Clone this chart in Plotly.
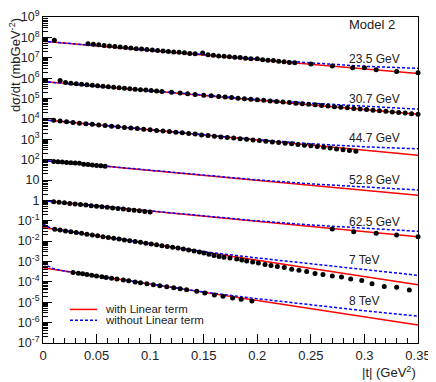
import plotly.graph_objects as go

# |t| in GeV^2, dsigma/dt in mb GeV^-2 (each energy shifted by a power of ten)
t_235 = [0.0106, 0.042, 0.047, 0.052, 0.057, 0.062, 0.067, 0.072, 0.077, 0.082,
         0.087, 0.092, 0.097, 0.102, 0.107, 0.112, 0.117, 0.122, 0.127, 0.132,
         0.137, 0.142, 0.149, 0.154, 0.159, 0.164, 0.169, 0.174, 0.179, 0.184,
         0.189, 0.194, 0.200, 0.205, 0.210, 0.215, 0.220, 0.225, 0.230, 0.235,
         0.250, 0.270, 0.289, 0.300, 0.311, 0.330, 0.350]
y_235 = [7.2e7, 4.90e7, 4.57e7, 4.32e7, 3.98e7, 3.80e7, 3.55e7, 3.35e7, 3.16e7, 3.02e7,
         2.80e7, 2.72e7, 2.51e7, 2.40e7, 2.28e7, 2.16e7, 2.05e7, 1.91e7, 1.85e7, 1.75e7,
         1.63e7, 1.58e7, 1.73e7, 1.40e7, 1.32e7, 1.23e7, 1.19e7, 1.11e7, 1.05e7, 1.02e7,
         9.48e6, 9.0e6, 9.06e6, 8.04e6, 7.62e6, 7.24e6, 6.71e6, 6.37e6, 5.92e6, 5.61e6,
         4.90e6, 3.98e6, 3.24e6, 3.24e6, 2.57e6, 2.09e6, 1.86e6]

t_307 = [0.016, 0.021, 0.026, 0.031, 0.036, 0.041, 0.046, 0.051, 0.056, 0.061,
         0.066, 0.071, 0.076, 0.081, 0.086, 0.091, 0.096, 0.101, 0.106, 0.111,
         0.120, 0.128, 0.135, 0.142, 0.150, 0.157, 0.164, 0.170, 0.176, 0.182,
         0.188, 0.194, 0.200, 0.206, 0.212, 0.218, 0.224, 0.230, 0.236, 0.242,
         0.248, 0.254, 0.260, 0.266, 0.272, 0.278, 0.284, 0.290, 0.296, 0.302,
         0.308, 0.314, 0.320, 0.326, 0.332, 0.338, 0.344, 0.350]
y_307 = [7.59e5, 6.03e5, 5.62e5, 5.37e5, 4.95e5, 4.71e5, 4.47e5, 4.24e5, 4.02e5, 3.80e5,
         3.53e5, 3.36e5, 3.18e5, 3.02e5, 2.86e5, 2.72e5, 2.58e5, 2.44e5, 2.32e5, 2.20e5,
         2.0e5, 1.84e5, 1.71e5, 1.58e5, 1.46e5, 1.36e5, 1.26e5, 1.18e5, 1.11e5, 1.04e5,
         9.77e4, 9.18e4, 8.63e4, 8.11e4, 7.59e4, 7.14e4, 6.70e4, 6.31e4, 5.89e4, 5.55e4,
         5.21e4, 4.89e4, 4.57e4, 4.27e4, 3.98e4, 3.73e4, 3.48e4, 3.27e4, 3.05e4, 2.85e4,
         2.67e4, 2.51e4, 2.34e4, 2.20e4, 2.06e4, 1.93e4, 1.81e4, 1.70e4]

t_447 = [0.010, 0.016, 0.022, 0.028, 0.034, 0.040, 0.046, 0.052, 0.058, 0.064,
         0.070, 0.076, 0.082, 0.088, 0.094, 0.100, 0.106, 0.112, 0.118, 0.124,
         0.130, 0.136, 0.142, 0.148, 0.154, 0.160, 0.166, 0.172, 0.178, 0.184,
         0.190, 0.196, 0.202, 0.208, 0.214, 0.220, 0.226, 0.232, 0.238, 0.244,
         0.250, 0.256, 0.262, 0.268, 0.274, 0.280, 0.286, 0.292]
y_447 = [8.5e3, 7.8e3, 7.2e3, 6.62e3, 6.18e3, 5.77e3, 5.38e3, 5.04e3, 4.70e3, 4.39e3,
         4.09e3, 3.82e3, 3.56e3, 3.33e3, 3.11e3, 2.90e3, 2.71e3, 2.53e3, 2.37e3, 2.21e3,
         2.06e3, 1.92e3, 1.79e3, 1.64e3, 1.53e3, 1.40e3, 1.30e3, 1.22e3, 1.14e3, 1.06e3,
         990, 925, 860, 790, 730, 690, 640, 600, 560, 510,
         476, 445, 406, 370, 337, 308, 281, 256]

t_528 = [0.010, 0.014, 0.018, 0.022, 0.026, 0.030, 0.034, 0.038, 0.042, 0.046,
         0.050, 0.054, 0.058]
y_528 = [81.5, 78.0, 75.5, 72.0, 70.5, 69.0, 65.5, 60.0, 57.0, 54.3,
         51.0, 49.5, 47.5]

t_625 = [0.010, 0.015, 0.020, 0.025, 0.030, 0.035, 0.040, 0.045, 0.050, 0.055,
         0.060, 0.065, 0.070, 0.075, 0.080, 0.085, 0.090, 0.095, 0.100,
         0.270, 0.290, 0.311, 0.330, 0.350]
y_625 = [0.851, 0.803, 0.757, 0.698, 0.659, 0.622, 0.588, 0.542, 0.512, 0.482,
         0.455, 0.420, 0.396, 0.374, 0.345, 0.326, 0.307, 0.283, 0.267,
         0.0394, 0.0290, 0.0240, 0.0200, 0.0166]

t_7 = [0.011, 0.016, 0.021, 0.026, 0.031, 0.036, 0.041, 0.046, 0.051, 0.056,
       0.061, 0.066, 0.071, 0.076, 0.081, 0.086, 0.091, 0.096, 0.101, 0.106,
       0.111, 0.116, 0.121, 0.126, 0.131, 0.136, 0.141, 0.146,
       0.1503, 0.1549, 0.1596, 0.1643, 0.1689, 0.1745, 0.1808, 0.1855, 0.1901, 0.1957,
       0.2010, 0.2072, 0.2128, 0.2187, 0.2252, 0.2321, 0.2389, 0.2461, 0.2539, 0.2613,
       0.2700, 0.2786, 0.2872, 0.2975, 0.3071, 0.3185, 0.3301, 0.3419]
y_7 = [0.0382, 0.0348, 0.0317, 0.0289, 0.0264, 0.0240, 0.0219, 0.0200, 0.0182, 0.0166,
       0.0151, 0.0138, 0.0126, 0.0115, 0.0105, 9.53e-3, 8.69e-3, 7.92e-3, 7.23e-3, 6.59e-3,
       6.01e-3, 5.48e-3, 4.99e-3, 4.55e-3, 4.15e-3, 3.70e-3, 3.30e-3, 2.95e-3,
       2.60e-3, 2.24e-3, 1.96e-3, 1.75e-3, 1.60e-3, 1.48e-3, 1.32e-3, 1.20e-3, 1.06e-3, 9.46e-4,
       8.45e-4, 7.14e-4, 6.38e-4, 5.70e-4, 5.09e-4, 4.21e-4, 3.72e-4, 3.25e-4, 2.54e-4, 2.32e-4,
       1.96e-4, 1.71e-4, 1.40e-4, 1.18e-4, 8.17e-5, 5.90e-5, 5.40e-5, 3.98e-5]

t_8 = [0.028, 0.033, 0.037, 0.041, 0.0455, 0.050, 0.055, 0.059, 0.064, 0.069,
       0.075, 0.080, 0.086, 0.091, 0.097, 0.103, 0.109, 0.1155, 0.122, 0.128,
       0.134, 0.1435, 0.151, 0.160, 0.168, 0.177, 0.185, 0.195]
y_8 = [2.92e-4, 2.66e-4, 2.47e-4, 2.30e-4, 2.11e-4, 1.94e-4, 1.77e-4, 1.64e-4, 1.50e-4, 1.37e-4,
       1.22e-4, 1.12e-4, 9.98e-5, 9.10e-5, 8.15e-5, 7.29e-5, 6.53e-5, 5.79e-5, 5.13e-5, 4.59e-5,
       4.11e-5, 3.45e-5, 2.84e-5, 2.27e-5, 1.96e-5, 1.62e-5, 1.40e-5, 1.16e-5]

# fit curves: "with Linear term" (red) and "without Linear term" (blue)
t_red = [0.0, 0.35]
red_235 = [6.46e7, 1.70e6]
red_307 = [6.76e5, 1.70e4]
red_447 = [9.1e3, 166]
red_528 = [91.2, 1.78]
red_625 = [0.955, 0.0166]
red_7 = [0.0468, 7.24e-5]
red_8 = [4.90e-4, 7.59e-7]

t_blue = [0.0, 0.1, 0.2, 0.25, 0.3, 0.35]
blue_235 = [6.46e7, 2.29e7, 8.71e6, 5.62e6, 3.80e6, 3.02e6]
blue_307 = [6.76e5, 2.36e5, 8.8e4, 5.9e4, 4.06e4, 3.0e4]
blue_447 = [9.1e3, 2.9e3, 950, 600, 426, 339]
blue_528 = [91.2, 29.6, 10.1, 6.44, 4.41, 3.24]
blue_625 = [0.955, 0.300, 0.0986, 0.0621, 0.0418, 0.0302]

t_blue_tev = [0.0, 0.005, 0.01, 0.02, 0.05, 0.1, 0.15, 0.2, 0.25, 0.3, 0.35]
blue_7 = [0.0692, 0.0490, 0.0398, 0.0324, 0.0186, 7.41e-3, 3.05e-3, 1.49e-3, 7.62e-4, 4.04e-4, 2.09e-4]
blue_8 = [7.76e-4, 5.62e-4, 4.37e-4, 3.39e-4, 1.95e-4, 7.94e-5, 3.20e-5, 1.49e-5, 7.28e-6, 3.81e-6, 2.09e-6]

labels = ["23.5 GeV", "30.7 GeV", "44.7 GeV", "52.8 GeV", "62.5 GeV", "7 TeV", "8 TeV"]
label_logy = [6.95, 5.0, 3.05, 1.0, -1.08, -2.95, -4.94]

datasets = [(t_235, y_235), (t_307, y_307), (t_447, y_447), (t_528, y_528),
            (t_625, y_625), (t_7, y_7), (t_8, y_8)]
reds = [red_235, red_307, red_447, red_528, red_625, red_7, red_8]
blues = [(t_blue, blue_235), (t_blue, blue_307), (t_blue, blue_447), (t_blue, blue_528),
         (t_blue, blue_625), (t_blue_tev, blue_7), (t_blue_tev, blue_8)]

FONT = "Liberation Sans, Arial, sans-serif"
RED = "#ff0000"
BLUE = "#0000ff"
BLUE_DASH = "3px,2px"

fig = go.Figure()
for red, (tb, blue) in zip(reds, blues):
    fig.add_trace(go.Scatter(x=t_red, y=red, mode="lines", showlegend=False,
                             line=dict(color=RED, width=1.5)))
    fig.add_trace(go.Scatter(x=tb, y=blue, mode="lines", showlegend=False,
                             line=dict(color=BLUE, width=1.5, dash=BLUE_DASH)))

for tx, ty in datasets:
    fig.add_trace(go.Scatter(x=tx, y=ty, mode="markers", showlegend=False,
                             marker=dict(color="black", size=5), cliponaxis=False))

for text, ly in zip(labels, label_logy):
    fig.add_annotation(x=0.284, y=ly, text=text, showarrow=False, xanchor="left",
                       yanchor="middle", font=dict(size=12, color="#222"))

fig.add_annotation(x=0.284, y=8.61, text="Model 2", showarrow=False, xanchor="left",
                   yanchor="middle", font=dict(size=13, color="#222"))

# legend drawn ROOT-style, compact
legend_items = [("with Linear term", RED, "solid", 0.103),
                ("without Linear term", BLUE, BLUE_DASH, 0.070)]
for text, col, dash, ly in legend_items:
    fig.add_shape(type="line", xref="paper", yref="paper", x0=0.072, x1=0.144,
                  y0=ly, y1=ly, line=dict(color=col, width=1.5, dash=dash))
    fig.add_annotation(x=0.16, y=ly, xref="paper", yref="paper", text=text,
                       showarrow=False, xanchor="left", yanchor="middle",
                       font=dict(size=11.5, color="#222"))

# axis titles (ROOT style: at the ends of the axes)
fig.add_annotation(x=-0.075, y=0.852, xref="paper", yref="paper", textangle=-90,
                   text="dσ/dt (mbGeV<sup>-2</sup>)", showarrow=False,
                   xanchor="center", yanchor="middle", font=dict(size=13, color="#222"))
fig.add_annotation(x=1.0, y=-0.09, xref="paper", yref="paper",
                   text="|t| (GeV<sup>2</sup>)", showarrow=False,
                   xanchor="right", yanchor="middle", font=dict(size=13, color="#222"))

exps = list(range(-7, 10))
ytext = []
for e in exps:
    if e == 0:
        ytext.append("1")
    elif e == 1:
        ytext.append("10")
    else:
        ytext.append(f"10<sup>{e}</sup>")
minor_vals = [m * 10.0 ** e for e in range(-7, 9) for m in range(2, 10)]

# the page body adds an 8px margin, so the figure is sized to fit inside it
fig.update_layout(
    width=428, height=374,
    margin=dict(l=35, r=18, t=9, b=39),
    paper_bgcolor="white", plot_bgcolor="white",
    font=dict(family=FONT, size=13, color="#222"),
    showlegend=False,
)
fig.update_xaxes(range=[0, 0.35], tickvals=[0, 0.05, 0.1, 0.15, 0.2, 0.25, 0.3, 0.35],
                 ticktext=["0", "0.05", "0.1", "0.15", "0.2", "0.25", "0.3", "0.35"],
                 ticks="inside", ticklen=9, tickcolor="black", showline=True,
                 linecolor="black", linewidth=1, mirror=True, showgrid=False,
                 zeroline=False, automargin=False, ticklabelstandoff=0,
                 minor=dict(ticks="inside", ticklen=5, tickcolor="black", dtick=0.01,
                            tick0=0, showgrid=False))
fig.update_yaxes(type="log", range=[-7.0005, 9.0005], tickvals=[10.0 ** e for e in exps],
                 ticktext=ytext, ticks="inside", ticklen=9, tickcolor="black",
                 showline=True, linecolor="black", linewidth=1, mirror=True,
                 showgrid=False, zeroline=False, automargin=False,
                 ticklabeloverflow="allow", tickfont=dict(size=12.5),
                 minor=dict(ticks="inside", ticklen=5, tickcolor="black",
                            tickvals=minor_vals, showgrid=False))

fig.write_html("out.html")
